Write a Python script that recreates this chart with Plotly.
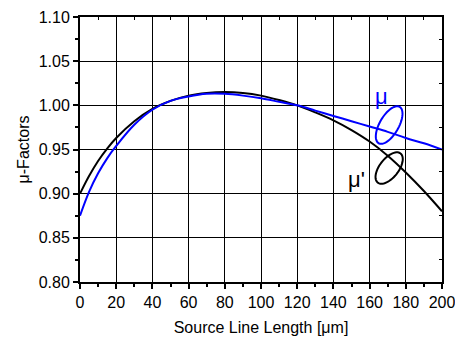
import numpy as np
import plotly.graph_objects as go

# Data
x_vals = [0, 5, 10, 15, 20, 30, 40, 50, 60, 70, 80, 90, 100, 110, 120, 130, 140, 150, 160, 170, 180, 190, 200]
mu_prime = [0.900, 0.920, 0.937, 0.951, 0.963, 0.982, 0.996, 1.005, 1.011, 1.014, 1.015, 1.014, 1.011, 1.006,
            1.000, 0.992, 0.983, 0.972, 0.959, 0.943, 0.924, 0.903, 0.880]
mu = [0.875, 0.902, 0.923, 0.940, 0.954, 0.978, 0.995, 1.005, 1.010, 1.013, 1.013, 1.011, 1.008, 1.004,
      1.000, 0.994, 0.988, 0.982, 0.976, 0.970, 0.963, 0.957, 0.950]
x_ticks = list(range(0, 201, 20))
y_ticks = [0.80, 0.85, 0.90, 0.95, 1.00, 1.05, 1.10]
y_ticktext = ["0.80", "0.85", "0.90", "0.95", "1.00", "1.05", "1.10"]

BLUE = "#0000ff"
FONT = "Liberation Sans, Arial, sans-serif"

fig = go.Figure()
fig.add_trace(go.Scatter(x=x_vals, y=mu_prime, mode="lines", line=dict(color="black", width=2, shape="spline"),
                         showlegend=False))
fig.add_trace(go.Scatter(x=x_vals, y=mu, mode="lines", line=dict(color=BLUE, width=2, shape="spline"),
                         showlegend=False))

# plot geometry (px) for converting ellipse sizes
L, R, T, B = 80, 13, 17, 57
W, H = 455, 339
pw, ph = W - L - R, H - T - B
sx = 200 / pw      # data per px
sy = 0.30 / ph


def ellipse_path(cx, cy, a_px, b_px, ang_deg):
    t = np.linspace(0, 2 * np.pi, 60)
    th = np.deg2rad(ang_deg)
    ex = a_px * np.cos(t) * np.cos(th) - b_px * np.sin(t) * np.sin(th)
    ey = a_px * np.cos(t) * np.sin(th) + b_px * np.sin(t) * np.cos(th)
    xs = cx + ex * sx
    ys = cy + ey * sy
    return "M " + " L ".join(f"{a:.4f},{b:.5f}" for a, b in zip(xs, ys)) + " Z"


fig.add_shape(type="path", path=ellipse_path(170.8, 0.9777, 21, 9.5, 60), line=dict(color=BLUE, width=2),
              xref="x", yref="y")
fig.add_shape(type="path", path=ellipse_path(170.8, 0.929, 18.5, 9.5, 52), line=dict(color="black", width=2),
              xref="x", yref="y")

fig.add_annotation(x=166.7, y=1.0097, text="μ", showarrow=False, font=dict(family=FONT, size=22, color=BLUE),
                   xref="x", yref="y")
fig.add_annotation(x=152.7, y=0.9155, text="μ'", showarrow=False, font=dict(family=FONT, size=22, color="black"),
                   xref="x", yref="y")

common = dict(showgrid=True, gridcolor="black", gridwidth=1, zeroline=False, showline=True,
              linecolor="black", linewidth=2, automargin=False, ticklabeloverflow="allow")

fig.update_layout(
    width=W, height=H,
    margin=dict(l=L, r=R, t=T, b=B),
    paper_bgcolor="white", plot_bgcolor="white",
    font=dict(family=FONT, size=16, color="black"),
    xaxis=dict(range=[0, 200], tickmode="array", tickvals=x_ticks,
               ticks="outside", ticklen=5, tickwidth=1.5, tickcolor="black",
               minor=dict(tickvals=list(range(10, 200, 20)), ticks="outside", ticklen=3, tickcolor="black", showgrid=False),
               title=dict(text="Source Line Length [μm]", font=dict(size=16), standoff=12), **common),
    yaxis=dict(range=[0.80, 1.10], tickmode="array", tickvals=y_ticks, ticktext=y_ticktext,
               ticks="outside", ticklen=5, tickwidth=1.5, tickcolor="black",
               minor=dict(tickvals=[0.825, 0.875, 0.925, 0.975, 1.025, 1.075], ticks="outside", ticklen=3,
                          tickcolor="black", showgrid=False),
               title=dict(text="μ-Factors", font=dict(size=16), standoff=5), **common),
    xaxis2=dict(range=[0, 200], overlaying="x", side="top", showgrid=False, showline=True, linecolor="black",
                linewidth=2, showticklabels=False, tickmode="array", tickvals=x_ticks,
                ticks="inside", ticklen=4, tickcolor="black", automargin=False,
                minor=dict(tickvals=list(range(10, 200, 20)), ticks="inside", ticklen=3, tickcolor="black")),
    yaxis2=dict(range=[0.80, 1.10], overlaying="y", side="right", showgrid=False, showline=True, linecolor="black",
                linewidth=2, showticklabels=False, tickmode="array", automargin=False,
                tickvals=y_ticks,
                ticks="inside", ticklen=4, tickcolor="black",
                minor=dict(tickvals=[0.825, 0.875, 0.925, 0.975, 1.025, 1.075], ticks="inside", ticklen=3,
                           tickcolor="black")),
)
# dummy trace to activate top/right axes
fig.add_trace(go.Scatter(x=[None], y=[None], xaxis="x2", yaxis="y2", showlegend=False, hoverinfo="skip"))

fig.write_html("out.html")
